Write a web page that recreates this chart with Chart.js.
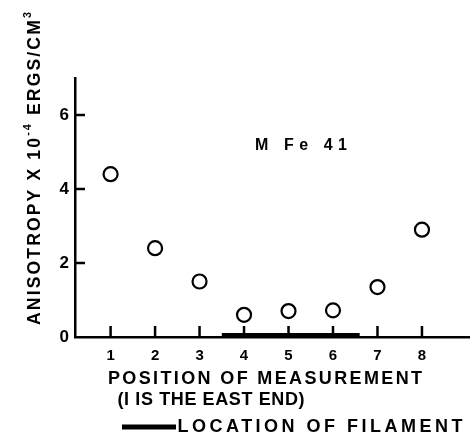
<!DOCTYPE html>
<html>
<head>
<meta charset="utf-8">
<script src="https://cdn.jsdelivr.net/npm/chart.js@4.4.1/dist/chart.umd.min.js"></script>
<style>
  html, body { margin: 0; padding: 0; background: #fff; }
  #wrap { width: 470px; height: 444px; }
</style>
</head>
<body>
<div id="wrap"><canvas id="chart" width="470" height="444"></canvas></div>
<script>
// positions 1..8 and measured anisotropy (x 10^-4 ergs/cm^3)
const positions = [1, 2, 3, 4, 5, 6, 7, 8];
const anisotropy = [4.4, 2.4, 1.5, 0.6, 0.7, 0.72, 1.35, 2.9];
const yTicks = [0, 2, 4, 6];
// filament extends from about 3.5 to 6.6
const filamentStart = 3.5;
const filamentEnd = 6.6;

const FONT = '"Liberation Sans", Arial, sans-serif';

// draw text stretched to a given width using letter spacing
function spacedText(ctx, text, cx, cy, width, size) {
    ctx.font = 'bold ' + size + 'px ' + FONT;
    ctx.letterSpacing = '0px';
    const natural = ctx.measureText(text).width;
    const gap = Math.max(0, (width - natural) / (text.length - 1));
    ctx.letterSpacing = gap + 'px';
    ctx.textAlign = 'left';
    ctx.textBaseline = 'middle';
    ctx.fillText(text, cx - width / 2, cy);
    ctx.letterSpacing = '0px';
}

const decorations = {
    id: 'decorations',
    afterDraw(chart) {
        const ctx = chart.ctx;
        const xs = chart.scales.x, ys = chart.scales.y;
        const y0 = ys.getPixelForValue(0);
        const xl = xs.left;
        ctx.save();
        ctx.strokeStyle = '#000';
        ctx.fillStyle = '#000';
        ctx.lineWidth = 2.5;

        // inward ticks on x axis
        positions.forEach(p => {
            const px = xs.getPixelForValue(p);
            ctx.beginPath();
            ctx.moveTo(px, y0);
            ctx.lineTo(px, y0 - 11);
            ctx.stroke();
        });
        // inward ticks on y axis
        yTicks.slice(1).forEach(v => {
            const py = ys.getPixelForValue(v);
            ctx.beginPath();
            ctx.moveTo(xl, py);
            ctx.lineTo(xl + 10, py);
            ctx.stroke();
        });

        // axis captions
        spacedText(ctx, 'POSITION OF MEASUREMENT', 265, 379, 314, 18);
        spacedText(ctx, '(I IS THE EAST END)', 211, 400, 187, 18);
        spacedText(ctx, 'M Fe 41', 301, 146, 92, 16);

        // legend for filament
        ctx.lineWidth = 5;
        ctx.beginPath();
        ctx.moveTo(122, 427);
        ctx.lineTo(176, 427);
        ctx.stroke();
        spacedText(ctx, 'LOCATION OF FILAMENT', 320, 427, 285, 18);

        // rotated y title
        ctx.translate(35, 168);
        ctx.rotate(-Math.PI / 2);
        const parts = [
            ['ANISOTROPY X 10', 18, 0],
            ['-4', 11, -7],
            [' ERGS/CM', 18, 0],
            ['3', 11, -7]
        ];
        ctx.textBaseline = 'middle';
        ctx.textAlign = 'left';
        let total = 0;
        const sp = 2.2;
        parts.forEach(p => {
            ctx.font = 'bold ' + p[1] + 'px ' + FONT;
            ctx.letterSpacing = sp + 'px';
            p.push(ctx.measureText(p[0]).width);
            total += p[3];
        });
        const scale = 315 / total;
        let x = -157;
        parts.forEach(p => {
            ctx.font = 'bold ' + p[1] + 'px ' + FONT;
            const w = p[3] * scale;
            ctx.save();
            ctx.translate(x, p[2]);
            ctx.scale(scale, 1);
            ctx.letterSpacing = sp + 'px';
            ctx.fillText(p[0], 0, 0);
            ctx.restore();
            x += w;
        });
        ctx.restore();
    }
};

new Chart(document.getElementById('chart'), {
    type: 'scatter',
    data: {
        datasets: [{
            label: 'M Fe 41',
            data: positions.map((p, i) => ({ x: p, y: anisotropy[i] })),
            pointStyle: 'circle',
            pointRadius: 7,
            pointBorderWidth: 2.2,
            pointBackgroundColor: '#fff',
            pointBorderColor: '#000',
            showLine: false
        }, {
            label: 'LOCATION OF FILAMENT',
            data: [{ x: filamentStart, y: 0.04 }, { x: filamentEnd, y: 0.04 }],
            showLine: true,
            borderColor: '#000',
            borderWidth: 5,
            pointRadius: 0,
            order: 2
        }]
    },
    options: {
        responsive: false,
        animation: false,
        layout: { autoPadding: false, padding: { top: 78, left: 0, right: 0, bottom: 0 } },
        plugins: {
            legend: { display: false },
            tooltip: { enabled: false }
        },
        scales: {
            x: {
                type: 'linear',
                min: 0.2,
                max: 9.08,
                afterFit(scale) {
                    scale.height = 107;
                    scale.paddingLeft = 0;
                    scale.paddingRight = 0;
                },
                afterBuildTicks(scale) { scale.ticks = positions.map(v => ({ value: v })); },
                grid: { display: false, drawTicks: false },
                border: { display: true, color: '#000', width: 2.5 },
                ticks: {
                    color: '#000',
                    padding: 10,
                    font: { family: FONT, weight: 'bold', size: 15 }
                }
            },
            y: {
                min: 0,
                max: 7,
                afterFit(scale) {
                    scale.width = 75;
                    scale.paddingTop = 0;
                    scale.paddingBottom = 0;
                },
                afterBuildTicks(scale) { scale.ticks = yTicks.map(v => ({ value: v })); },
                grid: { display: false, drawTicks: false },
                border: { display: true, color: '#000', width: 2.5 },
                ticks: {
                    color: '#000',
                    padding: 6,
                    font: { family: FONT, weight: 'bold', size: 17 }
                }
            }
        }
    },
    plugins: [decorations]
});
</script>
</body>
</html>
